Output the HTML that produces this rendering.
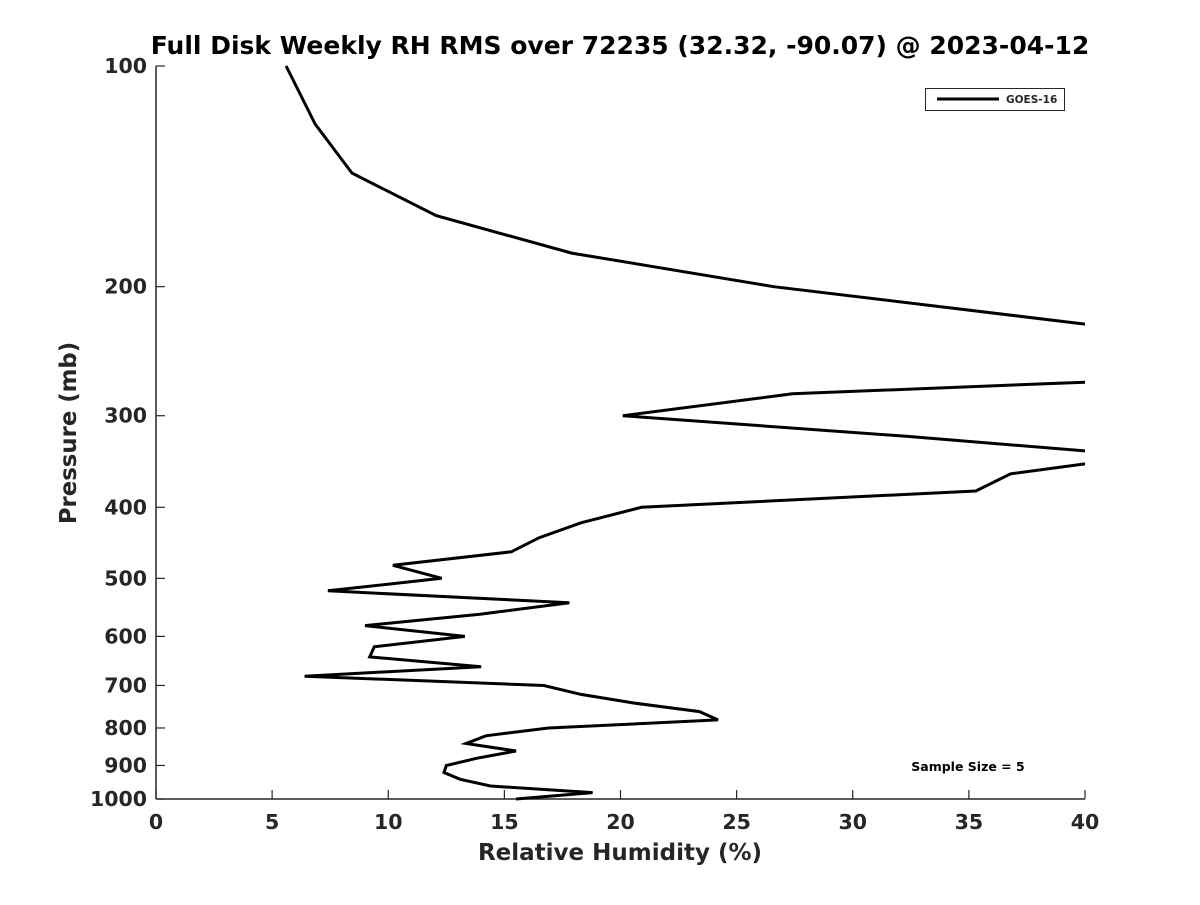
<!DOCTYPE html>
<html><head><meta charset="utf-8"><style>
body{margin:0;background:#fff;}
text{font-family:"DejaVu Sans","Liberation Sans",sans-serif;font-weight:bold;fill:#262626;}
</style></head><body>
<svg id="chart" width="1200" height="900" xmlns="http://www.w3.org/2000/svg">
<defs><clipPath id="plotclip"><rect x="156" y="60" width="929" height="745"/></clipPath></defs>
<rect width="1200" height="900" fill="#fff"/>
<text x="620" y="54" text-anchor="middle" font-size="25" style="fill:#000">Full Disk Weekly RH RMS over 72235 (32.32, -90.07) @ 2023-04-12</text>
<g id="axes"></g>
<path id="series" fill="none" stroke="#000" stroke-width="3" clip-path="url(#plotclip)"/>
<g>
<rect x="925.5" y="88.5" width="139" height="22" fill="#fff" stroke="#262626" stroke-width="1"/>
<line x1="937" y1="99" x2="999" y2="99" stroke="#000" stroke-width="3"/>
<text x="1006" y="103" font-size="10.5">GOES-16</text>
</g>
<text x="968" y="771" text-anchor="middle" font-size="12.5" style="fill:#000">Sample Size = 5</text>
<text x="620" y="860" text-anchor="middle" font-size="23">Relative Humidity (%)</text>
<text transform="translate(76,433) rotate(-90)" text-anchor="middle" font-size="22.8">Pressure (mb)</text>
</svg>
<script>
const pressures=[100,120,140,160,180,200,225,250,270,280,300,320,335,340,349,360,380,400,420,440,460,480,500,520,540,560,580,600,620,640,660,680,700,720,740,760,780,800,820,840,860,880,900,920,940,960,980,1000];
const rhValues=[5.6,6.85,8.44,12.06,17.9,26.6,40,60,40,27.4,20.1,32.3,40,42,40,36.8,35.3,20.9,18.3,16.5,15.3,10.2,12.3,7.4,17.8,13.9,9.0,13.3,9.4,9.2,14.0,6.4,16.7,18.3,20.6,23.4,24.2,16.9,14.2,13.35,15.5,13.8,12.5,12.4,13.1,14.4,18.8,15.5];
const xTicks=[0,5,10,15,20,25,30,35,40];
const yTicks=[100,200,300,400,500,600,700,800,900,1000];
const X0=156,X1=1085,Y0=66,Y1=799;
const xs=v=>X0+(v-0)/40*(X1-X0);
const ys=p=>Y0+Math.log10(p/100)*(Y1-Y0);
const NS="http://www.w3.org/2000/svg";
const ax=document.getElementById('axes');
function mk(t,a){const e=document.createElementNS(NS,t);for(const k in a)e.setAttribute(k,a[k]);ax.appendChild(e);return e;}
const yl=mk('line',{x1:X0,y1:Y0,x2:X0,y2:Y1,stroke:'#262626','stroke-width':1.5});


const xl=mk('line',{x1:X0,y1:Y1,x2:X1,y2:Y1,stroke:'#262626','stroke-width':1.5});


xTicks.forEach(v=>{const x=xs(v);
mk('line',{x1:x,y1:Y1,x2:x,y2:Y1-9,stroke:'#262626','stroke-width':1.2});
const t=mk('text',{x:x,y:829,'text-anchor':'middle','font-size':20.5});t.textContent=v;

});
yTicks.forEach(p=>{const y=ys(p);
mk('line',{x1:X0,y1:y,x2:X0+9,y2:y,stroke:'#262626','stroke-width':1.2});
const t=mk('text',{x:X0-9,y:y+7,'text-anchor':'end','font-size':20.5});t.textContent=p;

});
document.getElementById('series').setAttribute('d',pressures.map((p,i)=>(i?'L':'M')+xs(rhValues[i]).toFixed(1)+','+ys(p).toFixed(1)).join(''));
</script>
</body></html>
